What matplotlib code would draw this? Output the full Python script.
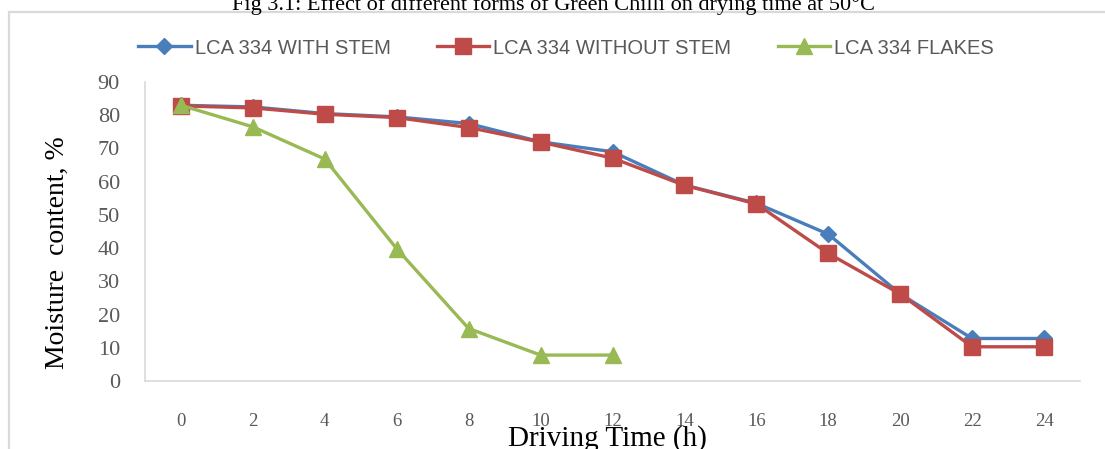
import matplotlib
matplotlib.use("Agg")
import matplotlib.pyplot as plt
from matplotlib.patches import Rectangle

# Drying time (h) and moisture content (%) for three forms of green chilli
hours = [0, 2, 4, 6, 8, 10, 12, 14, 16, 18, 20, 22, 24]
with_stem = [83, 82.5, 80.5, 79.5, 77.5, 72, 69, 59, 53.5, 44.2, 26.2, 12.8, 12.8]
without_stem = [82.8, 82.2, 80.3, 79.3, 76.3, 71.9, 67.1, 58.9, 53.3, 38.4, 26.2, 10.3, 10.3]
flakes_hours = [0, 2, 4, 6, 8, 10, 12]
flakes = [83, 76.5, 66.8, 39.8, 15.8, 7.8, 7.8]

series_names = ["LCA 334 WITH STEM", "LCA 334 WITHOUT STEM", "LCA 334 FLAKES"]
y_ticks = [0, 10, 20, 30, 40, 50, 60, 70, 80, 90]
x_tick_labels = [str(h) for h in hours]

title = "Fig 3.1: Effect of different forms of Green Chilli on drying time at 50°C"

W, H = 1105, 449
fig = plt.figure(figsize=(W / 100, H / 100), dpi=100)
fig.patch.set_facecolor("white")

# chart frame
fig.patches.append(Rectangle((9 / W, -0.1), 1.2, 1.1 - 12 / H, transform=fig.transFigure,
                             fill=False, edgecolor="#d9d9d9", linewidth=1.6))

fig.text(553 / W, 1 - 10 / H, title, ha="center", va="baseline",
         family="Liberation Serif", fontsize=16, color="black")

ax = fig.add_axes([145 / W, 1 - 381 / H, 935 / W, (381 - 82) / H])

blue, red, green = "#4a7ebb", "#be4b48", "#98b954"
ax.plot(hours, with_stem, color=blue, lw=2.4, marker="D", ms=8.5,
        label=series_names[0], zorder=3)
ax.plot(hours, without_stem, color=red, lw=2.4, marker="s", ms=12,
        label=series_names[1], zorder=4)
ax.plot(flakes_hours, flakes, color=green, lw=2.4, marker="^", ms=11,
        label=series_names[2], zorder=5)

ax.set_xlim(-1, 25)
ax.set_ylim(0, 90)
ax.set_yticks(y_ticks)
ax.set_xticks(hours)
ax.set_xticklabels(x_tick_labels)

for s in ("top", "right"):
    ax.spines[s].set_visible(False)
for s in ("left", "bottom"):
    ax.spines[s].set_color("#d9d9d9")
    ax.spines[s].set_linewidth(1.2)

ax.tick_params(axis="y", length=0, pad=18, labelsize=16, labelcolor="#595959")
ax.tick_params(axis="x", length=0, pad=23, labelsize=13.5, labelcolor="#595959")
for lab in ax.get_yticklabels() + ax.get_xticklabels():
    lab.set_family("Liberation Serif")

ax.set_ylabel("Moisture  content, %", family="Liberation Serif", fontsize=20, color="black")
ax.yaxis.set_label_coords(-0.094, 0.43)
ax.yaxis.label.set_va("center")
ax.set_xlabel("Driving Time (h)", family="Liberation Serif", fontsize=21, color="black")
ax.xaxis.set_label_coords(0.495, -0.216)
ax.xaxis.label.set_va("baseline")

leg = ax.legend(loc="center", bbox_to_anchor=(566 / W, 1 - 48 / H),
                bbox_transform=fig.transFigure, ncol=3, frameon=False,
                handlelength=2.6, handletextpad=0.2, columnspacing=2.3,
                prop={"family": "Liberation Sans", "size": 14.5})
for t in leg.get_texts():
    t.set_color("#595959")

fig.savefig("out.png", dpi=100, facecolor="white")
